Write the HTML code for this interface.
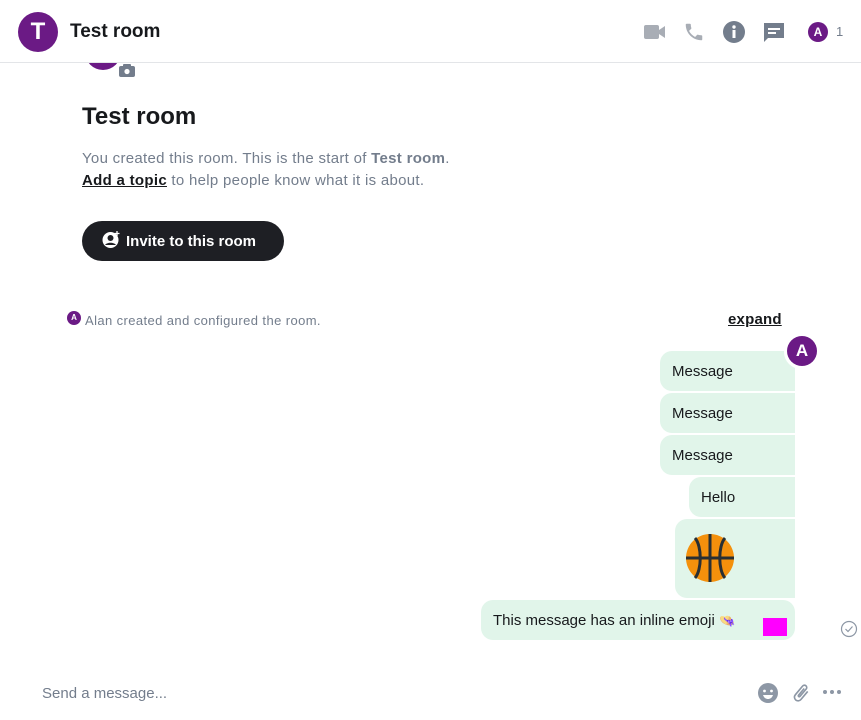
<!DOCTYPE html>
<html><head><meta charset="utf-8"><style>
*{margin:0;padding:0;box-sizing:border-box}
body{width:861px;height:720px;overflow:hidden;background:#fff;font-family:"Liberation Sans",sans-serif;position:relative;color:#17191c}
.a{position:absolute}
.b{position:absolute;background:#e1f5ea;border-radius:12px 0 0 12px;font-size:15px;line-height:42px;padding-left:12px;color:#17191c}
</style></head><body>
<div class="a" style="left:85px;top:34px;width:36px;height:36px;border-radius:50%;background:#6b1a85"></div>
<svg class="a" style="left:119px;top:63px" width="16" height="14" viewBox="0 0 16 14"><rect x="0" y="3" width="16" height="11" rx="2" fill="#737d8c"/><rect x="4" y="1" width="8" height="4" rx="1" fill="#737d8c"/><circle cx="8" cy="8.5" r="2.6" fill="#fff"/></svg>
<div class="a" style="left:0;top:0;width:861px;height:63px;background:#fff;border-bottom:1px solid #e3e5e8"></div>
<div class="a" style="left:18px;top:12px;width:40px;height:40px;border-radius:50%;background:#6b1a85;color:#fff;font-size:24px;font-weight:bold;text-align:center;line-height:40px">T</div>
<div class="a" style="left:70px;top:21px;font-size:19px;font-weight:bold;color:#17191c">Test room</div>
<svg class="a" style="left:643px;top:22px" width="24" height="20"><rect x="1" y="3" width="15" height="14" rx="2" fill="#a8adb5"/><path d="M16 8 L22 4 V16 L16 12Z" fill="#a8adb5"/></svg>
<svg class="a" style="left:683px;top:21px" width="22" height="22" viewBox="0 0 24 24"><path d="M6.6 10.8c1.4 2.8 3.8 5.1 6.6 6.6l2.2-2.2c.3-.3.7-.4 1-.2 1.1.4 2.300.6 3.6.6.6 0 1 .4 1 1V20c0 .6-.4 1-1 1C10.6 21 3 13.4 3 4c0-.6.4-1 1-1h3.5c.6 0 1 .4 1 1 0 1.3.2 2.5.6 3.6.1.3 0 .7-.2 1z" fill="#a8adb5"/></svg>
<svg class="a" style="left:723px;top:21px" width="22" height="22"><circle cx="11" cy="11" r="11" fill="#737d8c"/><rect x="9.5" y="9" width="3" height="8" fill="#fff"/><circle cx="11" cy="6" r="1.7" fill="#fff"/></svg>
<svg class="a" style="left:763px;top:22px" width="22" height="22"><path d="M1 1h20v15H5l-4 4z" fill="#737d8c"/><rect x="5" y="6" width="12" height="2" fill="#fff"/><rect x="5" y="10" width="8" height="2" fill="#fff"/></svg>
<div class="a" style="left:808px;top:22px;width:20px;height:20px;border-radius:50%;background:#6b1a85;color:#fff;font-size:12px;font-weight:bold;text-align:center;line-height:20px">A</div>
<div class="a" style="left:836px;top:24px;font-size:13px;color:#737d8c">1</div>

<div class="a" style="left:82px;top:103px;font-size:24px;font-weight:bold">Test room</div>
<div class="a" style="left:82px;top:148px;font-size:15px;line-height:22px;color:#737d8c;letter-spacing:0.3px">You created this room. This is the start of <b>Test room</b>.<br><u style="color:#17191c;font-weight:bold">Add a topic</u> to help people know what it is about.</div>
<div class="a" style="left:82px;top:221px;width:202px;height:40px;border-radius:20px;background:#1e1f24;color:#fff;font-size:15px;font-weight:bold;line-height:41px;padding-left:44px">Invite to this room</div>
<svg class="a" style="left:102px;top:230px" width="19" height="19"><circle cx="8.5" cy="10" r="8" fill="#fff"/><circle cx="8.5" cy="8" r="3" fill="#1e1f24"/><path d="M3 15c2-3 9-3 11 0" fill="#1e1f24"/><path d="M15 1v5M12.5 3.5h5" stroke="#fff" stroke-width="1.3"/></svg>

<div class="a" style="left:67px;top:311px;width:14px;height:14px;border-radius:50%;background:#6b1a85;color:#fff;font-size:8px;font-weight:bold;text-align:center;line-height:14px">A</div>
<div class="a" style="left:85px;top:313px;font-size:13px;color:#737d8c;letter-spacing:0.4px">Alan created and configured the room.</div>
<div class="a" style="left:728px;top:311px;font-size:15px;font-weight:bold;text-decoration:underline;letter-spacing:0.2px">expand</div>

<div class="b" style="left:660px;top:351px;width:135px;height:40px">Message</div>
<div class="b" style="left:660px;top:393px;width:135px;height:40px">Message</div>
<div class="b" style="left:660px;top:435px;width:135px;height:40px">Message</div>
<div class="b" style="left:689px;top:477px;width:106px;height:40px">Hello</div>
<div class="b" style="left:675px;top:519px;width:120px;height:79px"></div>
<svg class="a" style="left:686px;top:534px" width="48" height="48"><circle cx="24" cy="24" r="24" fill="#f4900c"/><path d="M24 0V48M0 24H48M9 4C16 12 16 36 9 44M39 4C32 12 32 36 39 44" stroke="#292f33" stroke-width="3" fill="none"/></svg>
<div class="b" style="left:481px;top:600px;width:314px;height:40px;border-radius:12px">This message has an inline emoji <span style="font-size:13px">👒</span></div>
<div class="a" style="left:763px;top:618px;width:24px;height:18px;background:#ff00ff"></div>
<div class="a" style="left:784px;top:335px;width:34px;height:34px;border-radius:50%;background:#fff"></div>
<div class="a" style="left:787px;top:336px;width:30px;height:30px;border-radius:50%;background:#6b1a85;color:#fff;font-size:17px;font-weight:bold;text-align:center;line-height:30px">A</div>
<svg class="a" style="left:840px;top:620px" width="18" height="18"><circle cx="9" cy="9" r="7.5" stroke="#8d97a5" stroke-width="1.2" fill="none"/><path d="M5.5 9l2.5 2.5 4.5-5" stroke="#8d97a5" stroke-width="1.2" fill="none"/></svg>

<div class="a" style="left:42px;top:685px;font-size:15px;color:#737d8c">Send a message...</div>
<svg class="a" style="left:757px;top:682px" width="22" height="22"><circle cx="11" cy="11" r="10" fill="#8d97a5"/><circle cx="7.5" cy="9" r="1.4" fill="#fff"/><circle cx="14.5" cy="9" r="1.4" fill="#fff"/><path d="M6 13h10c-1 3-3 4-5 4s-4-1-5-4z" fill="#fff"/></svg>
<svg class="a" style="left:790px;top:682px" width="22" height="22" viewBox="0 0 24 24"><path d="M16.5 6v11.5a4 4 0 0 1-8 0V5a2.5 2.5 0 0 1 5 0v10.5a1 1 0 0 1-2 0V6" stroke="#8d97a5" stroke-width="1.8" fill="none" transform="rotate(40 12 12)"/></svg>
<svg class="a" style="left:822px;top:688px" width="20" height="8"><circle cx="3" cy="4" r="2" fill="#8d97a5"/><circle cx="10" cy="4" r="2" fill="#8d97a5"/><circle cx="17" cy="4" r="2" fill="#8d97a5"/></svg>
</body></html>
